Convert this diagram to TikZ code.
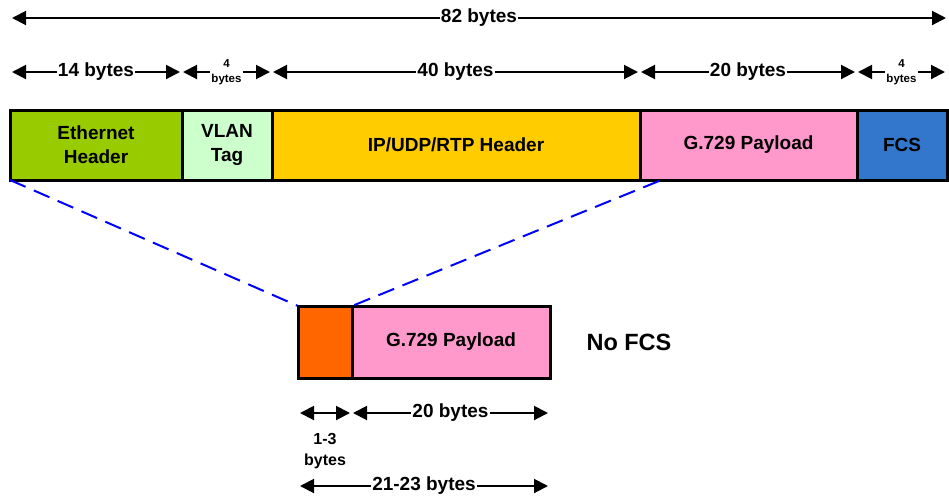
\documentclass[tikz,border=0pt]{standalone}
\usepackage{fontspec}
\setmainfont{Liberation Sans}
\usetikzlibrary{arrows.meta}
\definecolor{ethgreen}{HTML}{99CC00}
\definecolor{vlangreen}{HTML}{CCFFCC}
\definecolor{ipyellow}{HTML}{FFCC00}
\definecolor{paypink}{HTML}{FF99CC}
\definecolor{fcsblue}{HTML}{3377CC}
\definecolor{hdrorange}{HTML}{FF6600}
\tikzset{
  field/.style={draw=black, line width=3pt, anchor=north west, inner sep=0pt, outer sep=0pt,
    align=center, font=\fontsize{19}{24}\selectfont\bfseries, minimum height=70pt},
  dim/.style={line width=2pt, {Triangle[length=14pt,width=14pt]}-{Triangle[length=14pt,width=14pt]}},
  lbl/.style={fill=white, inner sep=1pt, font=\fontsize{19}{22}\selectfont\bfseries},
  smalllbl/.style={fill=white, inner sep=1pt, align=center, font=\fontsize{11.5}{15}\selectfont\bfseries},
  midlbl/.style={inner sep=0pt, align=center, font=\fontsize{16}{21}\selectfont\bfseries},
  zoomline/.style={draw=blue, line width=2pt, dash pattern=on 17pt off 9pt},
}
\begin{document}
\begin{tikzpicture}[x=1pt,y=-1pt]
\useasboundingbox (0,0) rectangle (949,496);
% top fields
\node[field, fill=ethgreen, minimum width=172pt] (eth) at (10,110) {Ethernet\\Header};
\node[field, fill=vlangreen, minimum width=90pt] (vlan) at (182,110) {VLAN\\Tag};
\node[field, fill=ipyellow, minimum width=368pt] (ip) at (272,110) {IP/UDP/RTP Header};
\node[field, fill=paypink, minimum width=217pt] (pay) at (640,110) {G.729 Payload};
\node[field, fill=fcsblue, minimum width=90pt] (fcs) at (857,110) {FCS};
% bottom fields
\node[field, fill=hdrorange, minimum width=54pt, minimum height=72pt] (chdr) at (298,306) {};
\node[field, fill=paypink, minimum width=198pt, minimum height=72pt] (cpay) at (352,306) {G.729 Payload};
\node[font=\fontsize{23.5}{28}\selectfont\bfseries, anchor=west] (nofcs) at (583,342) {No FCS};
% zoom lines
\coordinate (zr) at (659,181);
\draw[zoomline] (eth.south west) -- (chdr.north west);
\draw[zoomline] (zr) -- (cpay.north west);
% dimension coordinates
\coordinate (t0) at (12,18); \coordinate (t1) at (946,18);
\coordinate (a0) at (12,72); \coordinate (a1) at (180,72);
\coordinate (b0) at (183,72); \coordinate (b1) at (270,72);
\coordinate (c0) at (273,72); \coordinate (c1) at (638,72);
\coordinate (d0) at (641,72); \coordinate (d1) at (855,72);
\coordinate (e0) at (858,72); \coordinate (e1) at (945,72);
\coordinate (f0) at (300,413); \coordinate (f1) at (350,413);
\coordinate (g0) at (353,413); \coordinate (g1) at (548,413);
\coordinate (h0) at (300,486); \coordinate (h1) at (548,486);
\draw[dim] (t0) -- (t1) node[midway, lbl] (l82) {82 bytes};
\draw[dim] (a0) -- (a1) node[midway, lbl] (l14) {14 bytes};
\draw[dim] (b0) -- (b1) node[midway, smalllbl] (l4a) {4\\bytes};
\draw[dim] (c0) -- (c1) node[midway, lbl] (l40) {40 bytes};
\draw[dim] (d0) -- (d1) node[midway, lbl] (l20) {20 bytes};
\draw[dim] (e0) -- (e1) node[midway, smalllbl] (l4b) {4\\bytes};
\draw[dim] (f0) -- (f1);
\node[midlbl] (l13) at (325,451) {1-3\\bytes};
\draw[dim] (g0) -- (g1) node[midway, lbl] (l20b) {20 bytes};
\draw[dim] (h0) -- (h1) node[midway, lbl] (l2123) {21-23 bytes};
\end{tikzpicture}
\end{document}
